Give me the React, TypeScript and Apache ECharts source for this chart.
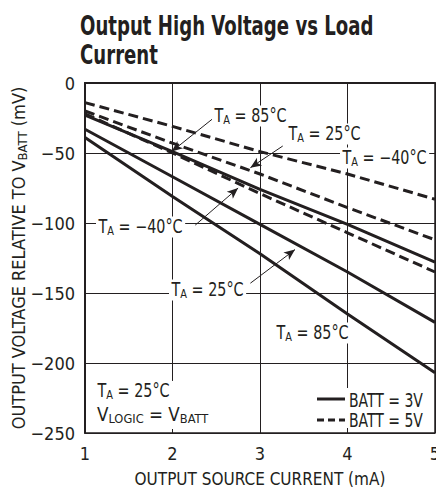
import React, { useEffect, useRef } from "react";
import * as echarts from "echarts";

const currents = [1, 2, 3, 4, 5];
const batt3Minus40 = [-23, -49, -76, -101, -128];
const batt3At25 = [-33, -67, -101, -135, -171];
const batt3At85 = [-39, -81, -122, -165, -207];
const batt5Minus40 = [-14, -31, -49, -65, -83];
const batt5At25 = [-20, -43, -65, -89, -112];
const batt5At85 = [-22, -50, -79, -107, -135];

const seriesDefs = [
  { name: "BATT = 3V, TA = −40°C", values: batt3Minus40, dashed: false },
  { name: "BATT = 3V, TA = 25°C", values: batt3At25, dashed: false },
  { name: "BATT = 3V, TA = 85°C", values: batt3At85, dashed: false },
  { name: "BATT = 5V, TA = −40°C", values: batt5Minus40, dashed: true },
  { name: "BATT = 5V, TA = 25°C", values: batt5At25, dashed: true },
  { name: "BATT = 5V, TA = 85°C", values: batt5At85, dashed: true },
];

// annotation arrows in data coordinates [current, mV]
const arrowFrom = [
  [2.54, -21.5],
  [3.26, -45],
  [2.26, -101.5],
  [2.89, -143],
];
const arrowTo = [
  [1.99, -49],
  [2.89, -60.5],
  [2.75, -75],
  [3.4, -119],
];

const INK = "#231f20";
const NARROW = "'Liberation Sans Narrow', 'DejaVu Sans Condensed', 'Roboto Condensed', sans-serif";
const SQUEEZE = 0.84;

const richG = {
  m: { fontSize: 19, fontFamily: NARROW, fill: INK },
  s: { fontSize: 13, fontFamily: NARROW, fill: INK, padding: [8, 0, 0, 0] },
};

function taLabel(temp: string, x: number, y: number) {
  return {
    type: "text",
    x,
    y,
    z: 20,
    scaleX: SQUEEZE,
    style: {
      text: `{m|T}{s|A}{m| = ${temp}}`,
      rich: richG,
      align: "left",
      verticalAlign: "middle",
      backgroundColor: "#fff",
      padding: [0, 3, 0, 3],
      fill: INK,
    },
  };
}

export default function App() {
  const ref = useRef<HTMLDivElement>(null);
  useEffect(() => {
    if (!ref.current) return;
    const chart = echarts.init(ref.current, undefined, { renderer: "svg" });
    const series: any[] = seriesDefs.map((d) => ({
      name: d.name,
      type: "line",
      showSymbol: false,
      silent: true,
      data: currents.map((c, i) => [c, d.values[i]]),
      lineStyle: { color: INK, width: 3, type: d.dashed ? [10, 5] : "solid" },
      z: 3,
    }));
    series[0].markLine = {
      silent: true,
      symbol: ["none", "arrow"],
      symbolSize: [7, 11],
      label: { show: false },
      lineStyle: { color: INK, width: 1, type: "solid" },
      data: arrowFrom.map((f, i) => [{ coord: f }, { coord: arrowTo[i] }]),
    };
    chart.setOption({
      animation: false,
      grid: {
        left: 85,
        right: 1,
        top: 83,
        bottom: 60,
        show: true,
        borderColor: INK,
        borderWidth: 1.5,
        containLabel: false,
        outerBoundsMode: "none",
      },
      xAxis: {
        type: "value",
        min: 1,
        max: 5,
        interval: 1,
        axisLine: { show: true, lineStyle: { color: INK, width: 2 } },
        axisTick: { show: false },
        splitLine: { show: true, lineStyle: { color: INK, width: 1 } },
        axisLabel: { fontSize: 18, fontFamily: NARROW, color: INK, margin: 11, hideOverlap: false },
        name: "OUTPUT SOURCE CURRENT (mA)",
        nameLocation: "middle",
        nameGap: 37,
        nameTextStyle: { fontSize: 17, fontFamily: NARROW, color: INK },
      },
      yAxis: {
        type: "value",
        min: -250,
        max: 0,
        interval: 50,
        axisLine: { show: true, lineStyle: { color: INK, width: 2 } },
        axisTick: { show: false },
        splitLine: { show: true, lineStyle: { color: INK, width: 1 } },
        axisLabel: {
          fontSize: 18,
          fontFamily: NARROW,
          color: INK,
          margin: 10,
          formatter: (v: number) => String(v).replace("-", "−"),
        },
        name: "{m|OUTPUT VOLTAGE RELATIVE TO V}{s|BATT}{m| (mV)}",
        nameLocation: "middle",
        nameGap: 56,
        nameMoveOverlap: false,
        nameRotate: 90,
        nameTextStyle: {
          rich: {
            m: { fontSize: 18, fontFamily: NARROW, color: INK },
            s: { fontSize: 13, fontFamily: NARROW, color: INK, padding: [9, 0, 0, 0] },
          },
        },
      },
      series,
      graphic: [
        {
          type: "text",
          x: 80,
          y: 10,
          scaleX: 0.775,
          z: 20,
          style: {
            text: "Output High Voltage vs Load\nCurrent",
            fontFamily: NARROW,
            fontWeight: "bold",
            fontSize: 26,
            lineHeight: 30,
            fill: INK,
            align: "left",
            verticalAlign: "top",
          },
        },
        taLabel("85°C", 212, 116),
        taLabel("25°C", 286, 134),
        taLabel("−40°C", 340, 158),
        taLabel("−40°C", 96, 227),
        taLabel("25°C", 169, 290),
        taLabel("85°C", 274, 333),
        {
          type: "rect",
          z: 19,
          shape: { x: 93, y: 381, width: 122, height: 48 },
          style: { fill: "#fff" },
        },
        taLabel("25°C", 95, 391),
        {
          type: "text",
          x: 97,
          y: 414,
          z: 20,
          scaleX: 0.98,
          style: {
            text: "{m|V}{s|LOGIC}{m| = V}{s|BATT}",
            rich: richG,
            align: "left",
            verticalAlign: "middle",
            fill: INK,
          },
        },
        {
          type: "rect",
          z: 19,
          shape: { x: 313, y: 388, width: 118, height: 40 },
          style: { fill: "#fff" },
        },
        {
          type: "line",
          z: 20,
          shape: { x1: 317, y1: 399, x2: 345, y2: 399 },
          style: { stroke: INK, lineWidth: 3 },
        },
        {
          type: "line",
          z: 20,
          shape: { x1: 317, y1: 420, x2: 345, y2: 420 },
          style: { stroke: INK, lineWidth: 3, lineDash: [7, 4] },
        },
        {
          type: "text",
          x: 349,
          y: 400,
          z: 20,
          scaleX: 0.82,
          style: { text: "BATT = 3V", fontSize: 19, fontFamily: NARROW, fill: INK, align: "left", verticalAlign: "middle" },
        },
        {
          type: "text",
          x: 349,
          y: 420,
          z: 20,
          scaleX: 0.82,
          style: { text: "BATT = 5V", fontSize: 19, fontFamily: NARROW, fill: INK, align: "left", verticalAlign: "middle" },
        },
      ],
    });
    return () => chart.dispose();
  }, []);
  return (
    <div
      ref={ref}
      style={{ position: "fixed", left: 0, top: 0, width: 436, height: 493, background: "#fff" }}
    />
  );
}
